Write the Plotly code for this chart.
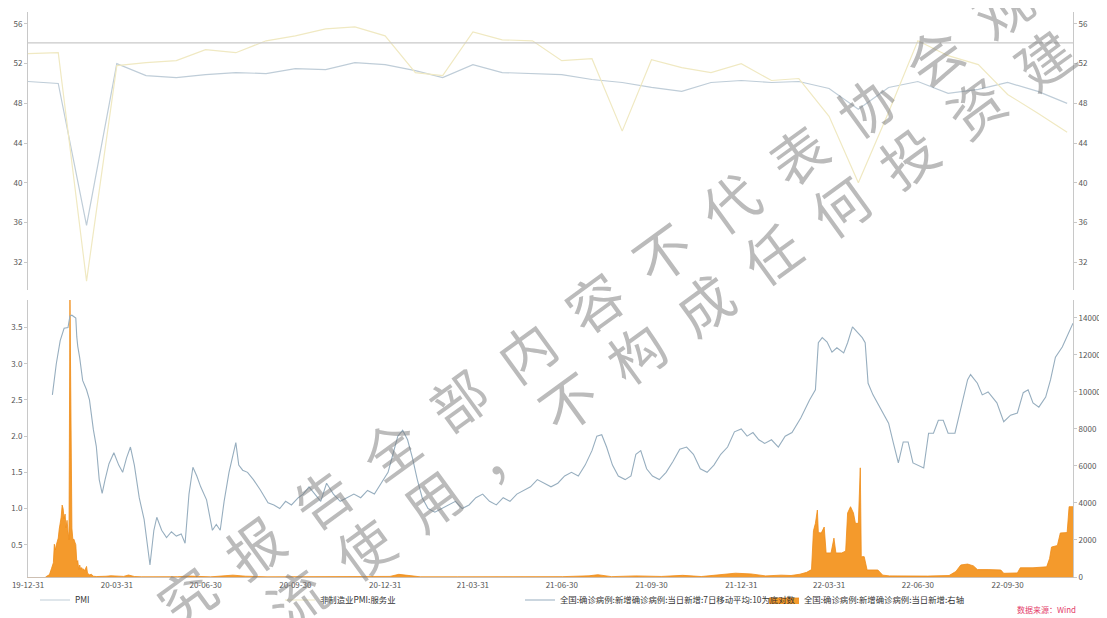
import plotly.graph_objects as go

# ---------------- data ----------------
pmi_dates = ["2019-12-31","2020-01-31","2020-02-29","2020-03-31","2020-04-30","2020-05-31","2020-06-30",
             "2020-07-31","2020-08-31","2020-09-30","2020-10-31","2020-11-30","2020-12-31",
             "2021-01-31","2021-02-28","2021-03-31","2021-04-30","2021-05-31","2021-06-30",
             "2021-07-31","2021-08-31","2021-09-30","2021-10-31","2021-11-30","2021-12-31",
             "2022-01-31","2022-02-28","2022-03-31","2022-04-30","2022-05-31","2022-06-30",
             "2022-07-31","2022-08-31","2022-09-30","2022-10-31","2022-11-30"]
pmi = [50.2, 50.0, 35.7, 52.0, 50.8, 50.6, 50.9, 51.1, 51.0, 51.5, 51.4, 52.1, 51.9,
       51.3, 50.6, 51.9, 51.1, 51.0, 50.9, 50.4, 50.1, 49.6, 49.2, 50.1, 50.3,
       50.1, 50.2, 49.5, 47.4, 49.6, 50.2, 49.0, 49.4, 50.1, 49.2, 48.0]
services_pmi = [53.0, 53.1, 30.1, 51.8, 52.1, 52.3, 53.4, 53.1, 54.3, 54.8, 55.5, 55.7, 54.8,
                51.1, 50.8, 55.2, 54.4, 54.3, 52.3, 52.5, 45.2, 52.4, 51.6, 51.1, 52.0,
                50.3, 50.5, 46.7, 40.0, 47.1, 54.3, 52.8, 51.9, 48.9, 47.0, 45.1]
ref_level = 54.1

log_dates = ["2020-01-25","2020-01-29","2020-02-02","2020-02-06","2020-02-10","2020-02-12","2020-02-14",
             "2020-02-18","2020-02-19","2020-02-20","2020-02-22","2020-02-25","2020-02-29","2020-03-03",
             "2020-03-07","2020-03-10","2020-03-13","2020-03-16","2020-03-19","2020-03-23","2020-03-28",
             "2020-04-02","2020-04-06","2020-04-10","2020-04-14","2020-04-18","2020-04-23","2020-04-28",
             "2020-05-04","2020-05-08","2020-05-11","2020-05-16","2020-05-21","2020-05-26","2020-05-31",
             "2020-06-05","2020-06-09","2020-06-13","2020-06-17","2020-06-21","2020-06-25","2020-07-01",
             "2020-07-07","2020-07-11","2020-07-15","2020-07-19","2020-07-24","2020-07-31","2020-08-03",
             "2020-08-07","2020-08-12","2020-08-18","2020-08-25","2020-09-02","2020-09-08","2020-09-14",
             "2020-09-20","2020-09-26","2020-10-03","2020-10-08","2020-10-14","2020-10-20","2020-10-26",
             "2020-11-01","2020-11-08","2020-11-15","2020-11-22","2020-11-29","2020-12-06","2020-12-13",
             "2020-12-20","2020-12-27",
             "2021-01-03","2021-01-08","2021-01-13","2021-01-18","2021-01-23","2021-01-28","2021-02-02",
             "2021-02-07","2021-02-13","2021-02-20","2021-02-27","2021-03-06","2021-03-13","2021-03-20",
             "2021-03-27","2021-04-03","2021-04-10","2021-04-17","2021-04-24","2021-05-01","2021-05-08",
             "2021-05-15","2021-05-22","2021-05-29","2021-06-05","2021-06-12","2021-06-19","2021-06-26",
             "2021-07-03","2021-07-10","2021-07-17","2021-07-24","2021-07-31","2021-08-05","2021-08-10",
             "2021-08-15","2021-08-21","2021-08-27","2021-09-03","2021-09-09","2021-09-14","2021-09-19",
             "2021-09-25","2021-10-01","2021-10-08","2021-10-15","2021-10-22","2021-10-29","2021-11-05",
             "2021-11-12","2021-11-19","2021-11-26","2021-12-03","2021-12-10","2021-12-17","2021-12-24",
             "2021-12-31",
             "2022-01-06","2022-01-12","2022-01-18","2022-01-24","2022-01-31","2022-02-07","2022-02-14",
             "2022-02-21","2022-03-02","2022-03-11","2022-03-17","2022-03-20","2022-03-24","2022-03-29",
             "2022-04-03","2022-04-08","2022-04-15","2022-04-19","2022-04-24","2022-04-29","2022-05-04",
             "2022-05-07","2022-05-10","2022-05-15","2022-05-22","2022-05-31","2022-06-05","2022-06-10",
             "2022-06-15","2022-06-20","2022-06-25","2022-06-30","2022-07-06","2022-07-11","2022-07-16",
             "2022-07-21","2022-07-26","2022-07-31","2022-08-07","2022-08-20","2022-08-23","2022-08-30",
             "2022-09-04","2022-09-10","2022-09-19","2022-09-26","2022-10-03","2022-10-10","2022-10-16",
             "2022-10-21","2022-10-26","2022-11-01","2022-11-08","2022-11-13","2022-11-18","2022-11-25",
             "2022-12-01","2022-12-06"]
log_values = [2.57, 3.00, 3.32, 3.49, 3.50, 3.66, 3.67,
              3.63, 3.37, 3.24, 3.08, 2.77, 2.64, 2.50,
              2.09, 1.86, 1.40, 1.21, 1.40, 1.62, 1.77,
              1.60, 1.50, 1.70, 1.85, 1.60, 1.15, 0.85,
              0.22, 0.70, 0.88, 0.70, 0.60, 0.68, 0.62,
              0.65, 0.52, 1.20, 1.57, 1.45, 1.30, 1.12,
              0.70, 0.78, 0.70, 1.10, 1.50, 1.91, 1.60,
              1.53, 1.50, 1.40, 1.26, 1.08, 1.05, 1.00,
              1.10, 1.05, 1.15, 1.20, 1.30, 1.20, 1.10,
              1.35, 1.20, 1.10, 1.15, 1.20, 1.15, 1.25,
              1.20, 1.35,
              1.50, 1.75, 2.00, 2.08, 1.95, 1.70, 1.40,
              1.15, 1.00, 0.95, 1.00, 1.05, 1.10, 1.00,
              1.05, 1.15, 1.20, 1.10, 1.05, 1.15, 1.10,
              1.20, 1.25, 1.30, 1.40, 1.35, 1.30, 1.35,
              1.45, 1.50, 1.45, 1.60, 1.80, 2.00, 2.02,
              1.85, 1.60, 1.45, 1.40, 1.45, 1.75, 1.80,
              1.55, 1.45, 1.40, 1.50, 1.65, 1.82, 1.85,
              1.75, 1.55, 1.50, 1.60, 1.75, 1.85, 2.06,
              2.10,
              2.00, 2.05, 1.95, 1.90, 1.95, 1.85, 2.00,
              2.05, 2.25, 2.50, 2.64, 3.29, 3.36, 3.30,
              3.16, 3.22, 3.15, 3.29, 3.51, 3.44, 3.36,
              3.29, 2.73, 2.57, 2.40, 2.18, 1.90, 1.63,
              1.92, 1.92, 1.63, 1.60, 1.56, 2.04, 2.04,
              2.22, 2.22, 2.04, 2.04, 2.78, 2.85, 2.73,
              2.57, 2.61, 2.46, 2.20, 2.29, 2.32, 2.60,
              2.64, 2.46, 2.40, 2.54, 2.78, 3.09, 3.23,
              3.42, 3.56]

case_dates = ["2020-01-18","2020-01-20","2020-01-22","2020-01-24","2020-01-26","2020-01-27","2020-01-28",
              "2020-01-29","2020-01-30","2020-01-31","2020-02-01","2020-02-02","2020-02-03","2020-02-04",
              "2020-02-05","2020-02-06","2020-02-07","2020-02-08","2020-02-09","2020-02-10","2020-02-11",
              "2020-02-12","2020-02-13","2020-02-14","2020-02-15","2020-02-16","2020-02-17","2020-02-18",
              "2020-02-19","2020-02-20","2020-02-21","2020-02-22","2020-02-23","2020-02-24","2020-02-25",
              "2020-02-26","2020-02-27","2020-02-28","2020-02-29","2020-03-01","2020-03-03","2020-03-05",
              "2020-03-07","2020-03-10","2020-03-15","2020-03-20","2020-03-25","2020-04-01","2020-04-07",
              "2020-04-12","2020-04-18","2020-04-25","2020-05-05","2020-05-12","2020-06-01","2020-06-14",
              "2020-06-20","2020-07-05","2020-07-28","2020-08-10","2020-09-01","2020-10-15","2020-11-20",
              "2020-12-20","2021-01-05","2021-01-14","2021-01-20","2021-02-05","2021-03-15","2021-05-01",
              "2021-06-01","2021-07-01","2021-07-28","2021-08-06","2021-08-20","2021-09-14","2021-10-10",
              "2021-11-01","2021-11-20","2021-12-25","2022-01-10","2022-01-25","2022-02-10","2022-02-20",
              "2022-03-01","2022-03-08","2022-03-13","2022-03-15","2022-03-17","2022-03-19","2022-03-20",
              "2022-03-23","2022-03-26","2022-03-28","2022-04-02","2022-04-05","2022-04-07","2022-04-13",
              "2022-04-17","2022-04-19","2022-04-22","2022-04-25","2022-04-27","2022-04-30","2022-05-02",
              "2022-05-03","2022-05-06","2022-05-09","2022-05-20","2022-05-25","2022-06-01","2022-06-20",
              "2022-07-10","2022-08-01","2022-08-08","2022-08-13","2022-08-20","2022-08-26","2022-08-30",
              "2022-09-10","2022-09-23","2022-09-26","2022-10-10","2022-10-13","2022-10-23","2022-10-26",
              "2022-11-09","2022-11-12","2022-11-14","2022-11-20","2022-11-23","2022-11-30","2022-12-02",
              "2022-12-06"]
case_values = [0, 77, 131, 444, 769, 1771, 1459,
               1737, 1982, 2102, 2590, 2829, 3235, 3887,
               3694, 3143, 3399, 2656, 3062, 2478, 2015,
               15152, 5090, 2641, 2009, 2048, 1886, 1749,
               820, 889, 397, 648, 409, 508, 406,
               433, 327, 427, 573, 202, 119, 143,
               44, 24, 16, 41, 67, 35, 32,
               108, 27, 11, 2, 7, 16, 49,
               26, 8, 101, 44, 9, 13, 20,
               23, 32, 144, 103, 11, 10, 10,
               20, 20, 64, 124, 20, 60, 30,
               90, 25, 206, 166, 60, 100, 80,
               150, 250, 400, 2500, 2900, 3620, 2400,
               2380, 2700, 1300, 1300, 2100, 1300, 1300,
               1400, 3460, 3800, 3460, 2900, 2900, 5900,
               1100, 1100, 380, 380, 100, 60, 40,
               50, 80, 300, 650, 700, 600, 400,
               400, 380, 200, 220, 500, 480, 500,
               550, 1000, 1620, 1700, 2380, 2400, 3800,
               3800]

tick_dates = ["2019-12-31","2020-03-31","2020-06-30","2020-09-30","2020-12-31","2021-03-31",
              "2021-06-30","2021-09-30","2021-12-31","2022-03-31","2022-06-30","2022-09-30"]
tick_labels = ["19-12-31","20-03-31","20-06-30","20-09-30","20-12-31","21-03-31",
               "21-06-30","21-09-30","21-12-31","22-03-31","22-06-30","22-09-30"]

name_pmi = "PMI"
name_services = "非制造业PMI:服务业"
name_log = "全国:确诊病例:新增确诊病例:当日新增:7日移动平均:10为底对数"
name_cases = "全国:确诊病例:新增确诊病例:当日新增:右轴"
watermark_1 = "究报告全部内容不代表协会观"
watermark_2 = "流使用，不构成任何投资建"

# ---------------- figure ----------------
# the page body has an 8px default margin, so the figure is sized/margined to
# place the plot area at page pixels x 28..1073, y 12..577
OFF = 8
W, H = 1107 - OFF, 618 - OFF
ML, MR, MT = 28 - OFF, 34, 12 - OFF
MB = H - (577 - OFF)
PW, PH = W - ML - MR, H - MT - MB

def px_x(px):
    return (px - 28) / PW

def px_y(py):
    return (577 - py) / PH

FONT = "Noto Sans CJK SC, Noto Sans, sans-serif"
tickfont = dict(family=FONT, size=8, color="#555555")

fig = go.Figure()

fig.add_trace(go.Scatter(x=pmi_dates, y=pmi, name=name_pmi, mode="lines",
                         line=dict(color="#bfcdd8", width=1.2), xaxis="x", yaxis="y",
                         legend="legend", showlegend=True))
fig.add_trace(go.Scatter(x=pmi_dates, y=services_pmi, name=name_services, mode="lines",
                         line=dict(color="#f0e9c2", width=1.2), xaxis="x", yaxis="y2",
                         legend="legend2", showlegend=True))
fig.add_trace(go.Scatter(x=case_dates, y=case_values, name=name_cases, mode="lines",
                         fill="tozeroy", fillcolor="#f49a2c",
                         line=dict(color="#ef8c16", width=0.8), xaxis="x", yaxis="y3",
                         legend="legend4", showlegend=True))
fig.add_trace(go.Scatter(x=log_dates, y=log_values, name=name_log, mode="lines",
                         line=dict(color="#97aebf", width=1.1), xaxis="x", yaxis="y4",
                         legend="legend3", showlegend=True))

axis_common = dict(showgrid=False, zeroline=False, showline=True, linecolor="#c8c8c8",
                   linewidth=1, ticks="outside", ticklen=3, tickcolor="#c8c8c8",
                   tickfont=tickfont)

fig.update_layout(
    width=W, height=H,
    showlegend=True,
    margin=dict(l=ML, r=MR, t=MT, b=MB),
    paper_bgcolor="white", plot_bgcolor="white",
    font=dict(family=FONT, size=8, color="#444444"),
    xaxis=dict(type="date", range=["2019-12-31", "2022-12-06"], anchor="y3",
               tickvals=tick_dates, ticktext=tick_labels, showgrid=False, zeroline=False,
               showline=True, linecolor="#cdbfb2", linewidth=1, ticks="", tickfont=tickfont),
    yaxis=dict(domain=[px_y(290), 1], range=[29.2, 57.2], tickvals=[32, 36, 40, 44, 48, 52, 56],
               anchor="x", side="left", **axis_common),
    yaxis2=dict(overlaying="y", range=[29.2, 57.2], tickvals=[32, 36, 40, 44, 48, 52, 56],
                anchor="x", side="right", **axis_common),
    yaxis3=dict(domain=[0, px_y(300)], range=[0, 14970], anchor="x", side="right",
                tickvals=[0, 2000, 4000, 6000, 8000, 10000, 12000, 14000], tickformat="d",
                **axis_common),
    yaxis4=dict(overlaying="y3", range=[0.055, 3.88], anchor="x", side="left",
                tickvals=[0.5, 1.0, 1.5, 2.0, 2.5, 3.0, 3.5], tickformat=".1f", **axis_common),
)

fig.add_shape(type="line", xref="x domain", yref="y", x0=0, x1=1, y0=ref_level, y1=ref_level,
              line=dict(color="#c9c9c9", width=1.2))

legend_style = dict(orientation="h", yanchor="middle", xanchor="left", bgcolor="rgba(0,0,0,0)",
                    font=dict(family=FONT, size=8.4, color="#333333"), itemwidth=30)
fig.update_layout(
    legend=dict(x=px_x(35), y=px_y(600), **legend_style),
    legend2=dict(x=px_x(280), y=px_y(600), **legend_style),
    legend3=dict(x=px_x(520), y=px_y(600), **legend_style),
    legend4=dict(x=px_x(764), y=px_y(600), **legend_style),
)

fig.add_annotation(text="数据来源：Wind", xref="paper", yref="paper", x=px_x(1078), y=px_y(609),
                   xanchor="right", yanchor="middle", showarrow=False,
                   font=dict(family=FONT, size=8, color="#e4406a"))

# watermark (two diagonal lines of grey characters)
wm_color = "rgba(120,120,120,0.5)"
step_x, step_y = 68, -49
for i, ch in enumerate(watermark_1):
    cx, cy = 185 + i * step_x, 594 + i * step_y
    fig.add_annotation(text=ch, xref="paper", yref="paper", x=px_x(cx), y=px_y(cy),
                       showarrow=False, textangle=-36, xanchor="center", yanchor="middle",
                       font=dict(family="Noto Sans CJK SC", size=56, color=wm_color))
for i, ch in enumerate(watermark_2):
    cx, cy = 295 + i * step_x, 596 + i * step_y
    fig.add_annotation(text=ch, xref="paper", yref="paper", x=px_x(cx), y=px_y(cy),
                       showarrow=False, textangle=-36, xanchor="center", yanchor="middle",
                       font=dict(family="Noto Sans CJK SC", size=56, color=wm_color))

fig.write_html("out.html")
